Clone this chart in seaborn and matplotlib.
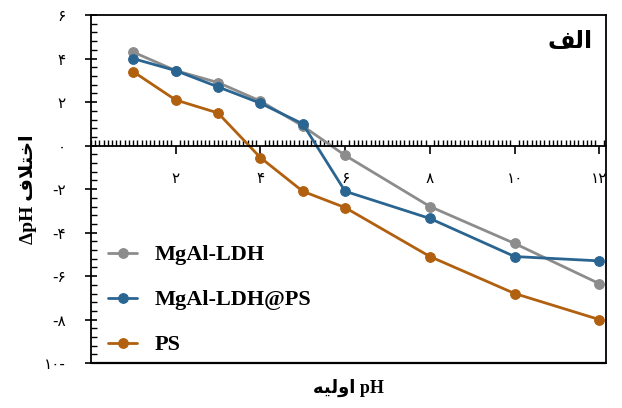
import numpy as np
import pandas as pd
import seaborn as sns
import matplotlib
matplotlib.use('Agg')
import matplotlib.pyplot as plt
from matplotlib.ticker import MultipleLocator, FixedLocator
from matplotlib.legend_handler import HandlerLine2D
from matplotlib.lines import Line2D

# data
ph0 = [1, 2, 3, 4, 5, 6, 8, 10, 12]
ldh = [4.3, 3.45, 2.9, 2.05, 0.9, -0.45, -2.8, -4.5, -6.35]
ldh_ps = [4.0, 3.45, 2.7, 1.95, 1.0, -2.1, -3.35, -5.1, -5.3]
ps = [3.4, 2.1, 1.5, -0.55, -2.1, -2.85, -5.1, -6.8, -8.0]
names = ['MgAl-LDH', 'MgAl-LDH@PS', 'PS']
colors = ['#8c8c8c', '#2a6592', '#b0600e']

xticks = [2, 4, 6, 8, 10, 12]
xticklabels = ['۲', '۴', '۶', '۸', '۱۰', '۱۲']
yticks = [6, 4, 2, 0, -2, -4, -6, -8, -10]
yticklabels = ['۶', '۴', '۲', '۰', '-۲', '-۴', '-۶', '-۸', '۱۰-']

# persian words written in presentation forms, visual order
title_fa = '\uFED2\uFEDF\uFE8D'                  # الف
ylabel_fa = '\uFED1\uFEFC\uFE98\uFEA7\uFE8D'     # اختلاف
xlabel_fa = '\uFEEA\uFEF4\uFEDF\uFEED\uFE8D'     # اولیه


class EndMarker(HandlerLine2D):
    # marker drawn at the right end of the legend line
    def get_xdata(self, legend, xdescent, ydescent, width, height, fontsize):
        xdata, _ = super().get_xdata(legend, xdescent, ydescent, width, height, fontsize)
        return xdata, np.array([-xdescent + width])


df = pd.concat([pd.DataFrame({'pH': ph0, 'dpH': v, 'sample': n})
                for v, n in zip([ldh, ldh_ps, ps], names)])

sns.set_style('ticks')
plt.rcParams['font.family'] = ['Liberation Serif', 'DejaVu Sans']
plt.rcParams['text.color'] = 'black'
plt.rcParams['axes.labelcolor'] = 'black'
plt.rcParams['xtick.color'] = 'black'
plt.rcParams['ytick.color'] = 'black'

fig = plt.figure(figsize=(6.22, 4.08), dpi=100)
ax = fig.add_axes([0.146, 0.110, 0.828, 0.853])

for n, c in zip(names, colors):
    sns.lineplot(data=df[df['sample'] == n], x='pH', y='dpH', color=c,
                 marker='o', markersize=7, markeredgecolor=c, linewidth=2,
                 label=n, ax=ax)

ax.set_xlim(0, 12.15)
ax.set_ylim(-10, 6)

# x axis sits on the zero line
ax.spines['bottom'].set_position(('data', 0))
for s in ['left', 'right', 'top', 'bottom']:
    ax.spines[s].set_color('black')
    ax.spines[s].set_linewidth(1.3)
ax.axhline(-10, color='black', lw=1.6, clip_on=False, zorder=5)

ax.xaxis.set_major_locator(FixedLocator(xticks))
ax.set_xticklabels(xticklabels, family=['DejaVu Sans'], fontsize=11)
ax.xaxis.set_minor_locator(MultipleLocator(0.1))
ax.tick_params(axis='x', which='major', direction='out', length=6, width=1.2, pad=12)
ax.tick_params(axis='x', which='minor', direction='in', length=4, width=1)

ax.yaxis.set_major_locator(FixedLocator(yticks))
ax.set_yticklabels(yticklabels, family=['DejaVu Sans'], fontsize=11)
ax.yaxis.set_minor_locator(MultipleLocator(0.4))
ax.tick_params(axis='y', which='major', direction='inout', length=8, width=1.2, pad=14)
ax.tick_params(axis='y', which='minor', direction='in', length=4, width=1)

ax.set_xlabel(xlabel_fa + ' pH', fontsize=13, fontweight='bold', labelpad=0)
ax.xaxis.set_label_coords(0.5, -0.045)
ax.set_ylabel('ΔpH ' + ylabel_fa, fontsize=14, fontweight='bold')
ax.yaxis.set_label_coords(-0.105, 0.5)

ax.text(0.975, 0.925, title_fa, transform=ax.transAxes, ha='right', va='center',
        fontsize=17, fontweight='bold', family=['DejaVu Sans'])

ax.legend(loc='lower left', bbox_to_anchor=(-0.005, -0.035), frameon=False,
          prop={'family': 'Liberation Serif', 'weight': 'bold', 'size': 16},
          handlelength=1.3, labelspacing=1.1, handletextpad=0.8,
          handler_map={Line2D: EndMarker(numpoints=1)})

fig.savefig('out.png', dpi=100)
